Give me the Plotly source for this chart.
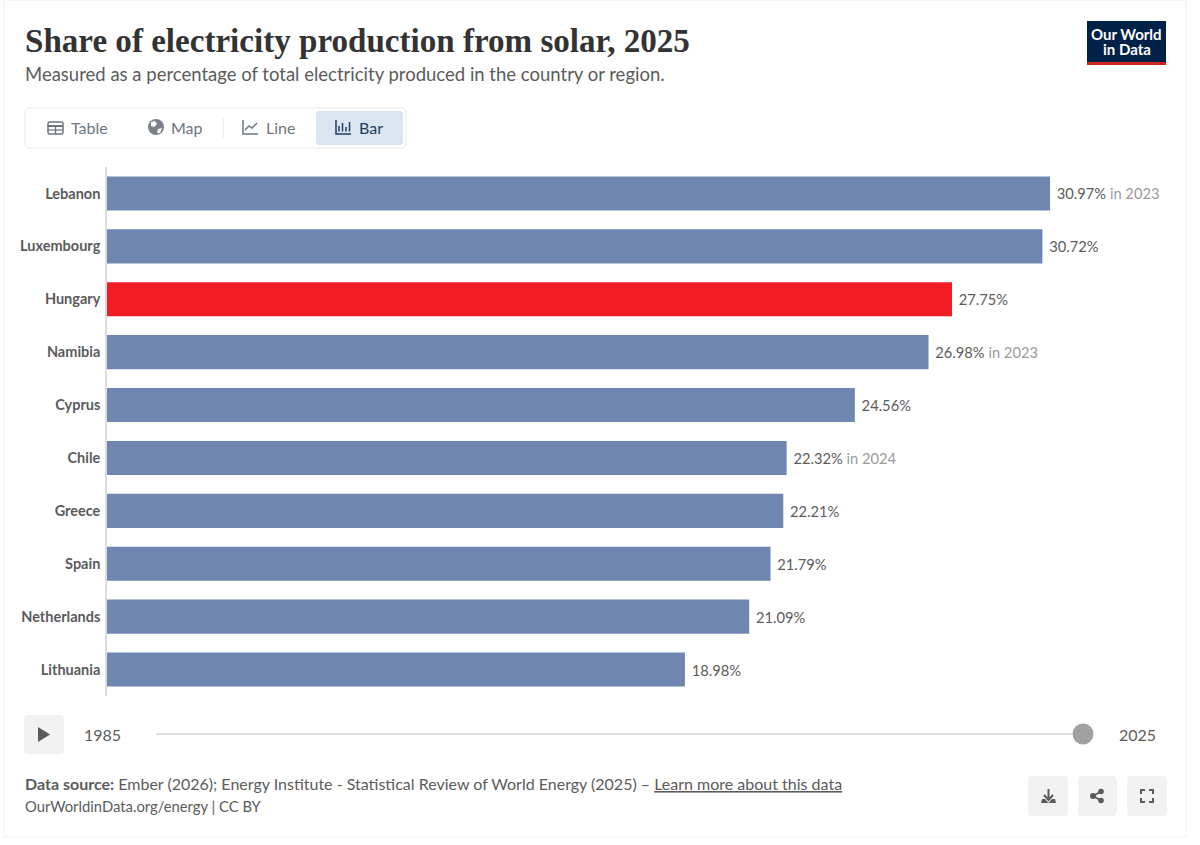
"""
Share of electricity production from solar, 2025 (Our World in Data style bar chart).
"""

import plotly.graph_objects as go

W, H = 1200, 845

countries = ["Lebanon", "Luxembourg", "Hungary", "Namibia", "Cyprus",
             "Chile", "Greece", "Spain", "Netherlands", "Lithuania"]
shares = [30.97, 30.72, 27.75, 26.98, 24.56, 22.32, 22.21, 21.79, 21.09, 18.98]
years = ["2023", "", "", "2023", "", "2024", "", "", "", ""]
highlight = "Hungary"

BLUE = "#6f87b0"
RED = "#f11c24"
TEXT = "#5b5b5b"
MUTED = "#6e7581"
BTN = "#f2f2f2"


def px(x):
    return x / W


def py(y):
    return 1 - y / H


def path(*pts):
    """SVG-путь из точек в пикселях картинки."""
    out = []
    for p in pts:
        if isinstance(p, str):
            out.append(p)
        else:
            out.append(f"{px(p[0]):.5f},{py(p[1]):.5f}")
    return " ".join(out)


def round_rect(x0, y0, x1, y1, r=4, fill=BTN, line=None, lw=1):
    d = path("M", (x0 + r, y0), "L", (x1 - r, y0), "Q", (x1, y0), (x1, y0 + r),
             "L", (x1, y1 - r), "Q", (x1, y1), (x1 - r, y1),
             "L", (x0 + r, y1), "Q", (x0, y1), (x0, y1 - r),
             "L", (x0, y0 + r), "Q", (x0, y0), (x0 + r, y0), "Z")
    return dict(type="path", xref="paper", yref="paper", path=d, fillcolor=fill,
                line=dict(color=line or "rgba(0,0,0,0)", width=lw))


def rect(x0, y0, x1, y1, fill="rgba(0,0,0,0)", line=None, lw=1):
    return dict(type="rect", xref="paper", yref="paper", x0=px(x0), x1=px(x1),
                y0=py(y0), y1=py(y1), fillcolor=fill,
                line=dict(color=line or "rgba(0,0,0,0)", width=lw))


def seg(x0, y0, x1, y1, color, lw=1):
    return dict(type="line", xref="paper", yref="paper", x0=px(x0), x1=px(x1),
                y0=py(y0), y1=py(y1), line=dict(color=color, width=lw))


def poly(pts, fill=None, line=None, lw=1.5, close=True):
    parts = ["M", pts[0]]
    for p in pts[1:]:
        parts += ["L", p]
    if close:
        parts.append("Z")
    return dict(type="path", xref="paper", yref="paper", path=path(*parts),
                fillcolor=fill or "rgba(0,0,0,0)",
                line=dict(color=line or "rgba(0,0,0,0)", width=lw))


def circle(cx, cy, r, fill="rgba(0,0,0,0)", line=None, lw=1):
    return dict(type="circle", xref="paper", yref="paper", x0=px(cx - r), x1=px(cx + r),
                y0=py(cy + r), y1=py(cy - r), fillcolor=fill,
                line=dict(color=line or "rgba(0,0,0,0)", width=lw))


def label(x, y, text, size=16, color=TEXT, anchor="left", family="Lato"):
    # у аннотаций есть внутренний отступ около 2 px
    if anchor == "left":
        x -= 2
    return dict(xref="paper", yref="paper", x=px(x), y=py(y), text=text, showarrow=False,
                xanchor=anchor, yanchor="middle", align=anchor,
                font=dict(family=family, size=size, color=color))


bar_text = []
for share, year in zip(shares, years):
    t = f"\u00a0{share:.2f}%"
    if year:
        t += f" <span style='color:#9a9a9a'>in {year}</span>"
    bar_text.append(t)

fig = go.Figure(go.Bar(
    x=shares,
    y=countries,
    orientation="h",
    marker=dict(color=[RED if c == highlight else BLUE for c in countries], line_width=0),
    text=bar_text,
    textposition="outside",
    cliponaxis=False,
    textfont=dict(family="Lato", size=14.7, color=TEXT),
    hoverinfo="x+y",
))

# рамка карточки, переключатель вкладок, логотип
shapes = [
    seg(4, 0, 4, 837, "#f0f0f0"),
    seg(1186, 0, 1186, 837, "#f0f0f0"),
    seg(4, 837, 1186, 837, "#f0f0f0"),
    seg(4, 0, 1186, 0, "#f0f0f0"),
    round_rect(25, 108, 406, 148, r=5, fill="#ffffff", line="#e9e9e9"),
    round_rect(316, 111, 403, 145, r=3, fill="#dbe5f0"),
    seg(223, 118, 223, 138, "#e4e4e4"),
    rect(1087, 21, 1166, 65, fill="#002147"),
    rect(1087, 62, 1166, 65, fill="#ce261e"),
    # таблица
    round_rect(48, 122, 63, 134, r=1.5, fill="rgba(0,0,0,0)", line=MUTED, lw=1.5),
    seg(48, 126, 63, 126, MUTED, 2),
    seg(55.5, 126, 55.5, 134, MUTED, 1.5),
    seg(48, 130, 63, 130, MUTED, 1.2),
    # глобус
    circle(156, 127, 8, fill="#7d8086"),
    poly([(151, 122), (155, 121), (157, 124), (154, 127), (151, 126)], fill="#ffffff"),
    poly([(158, 129), (162, 128), (160, 133), (157, 133)], fill="#ffffff"),
    # линия
    poly([(243, 120), (243, 134), (258, 134)], line=MUTED, close=False),
    poly([(245, 130), (249, 126), (252, 128), (257, 123)], line=MUTED, close=False),
    # столбики
    poly([(336, 120), (336, 134), (351, 134)], line="#1d3d63", close=False),
    seg(339, 126, 339, 131.5, "#1d3d63", 1.5),
    seg(342.5, 123, 342.5, 131.5, "#1d3d63", 1.5),
    seg(346, 127, 346, 131.5, "#1d3d63", 1.5),
    seg(349.5, 122, 349.5, 131.5, "#1d3d63", 1.5),
    # таймлайн
    round_rect(24, 715, 64, 754, r=4),
    poly([(38, 727), (50, 734.5), (38, 742)], fill=TEXT),
    seg(156, 734, 1072, 734, "#dfdfdf", 2),
    circle(1083, 734, 10.5, fill="#a1a1a1"),
    # кнопки внизу
    round_rect(1028, 776, 1068, 816, r=4),
    round_rect(1078, 776, 1117, 816, r=4),
    round_rect(1127, 776, 1167, 816, r=4),
    # скачать
    seg(1048.5, 789, 1048.5, 799, TEXT, 2),
    poly([(1044, 795), (1048.5, 800), (1053, 795)], line=TEXT, lw=2, close=False),
    poly([(1042, 799), (1045, 799), (1048.5, 803), (1052, 799), (1055, 799), (1056, 803),
          (1041, 803)], fill=TEXT),
    # поделиться
    seg(1093, 796, 1101, 791.5, TEXT, 1.8),
    seg(1093, 796, 1101, 800.5, TEXT, 1.8),
    circle(1093, 796, 3, fill=TEXT),
    circle(1101, 791.5, 2.8, fill=TEXT),
    circle(1101, 800.5, 2.8, fill=TEXT),
    # на весь экран
    poly([(1141, 794), (1141, 790), (1145, 790)], line=TEXT, lw=2, close=False),
    poly([(1149, 790), (1153, 790), (1153, 794)], line=TEXT, lw=2, close=False),
    poly([(1153, 798), (1153, 802), (1149, 802)], line=TEXT, lw=2, close=False),
    poly([(1145, 802), (1141, 802), (1141, 798)], line=TEXT, lw=2, close=False),
]

annotations = [
    label(25, 41, "<b>Share of electricity production from solar, 2025</b>", size=33.1,
          color="#333333", family="Liberation Serif"),
    label(25, 74, "Measured as a percentage of total electricity produced in the country or region.",
          size=18.5, color="#5b5b5b"),
    label(71, 127, "Table", color=MUTED),
    label(171, 127, "Map", color=MUTED),
    label(266, 127, "Line", color=MUTED),
    label(359, 127, "Bar", color="#1d3d63"),
    label(1126.5, 34, "<b>Our World</b>", size=15, color="#ffffff", anchor="center"),
    label(1126.5, 48.5, "<b>in Data</b>", size=15, color="#ffffff", anchor="center"),
    label(84, 734, "1985"),
    label(1119, 734, "2025"),
    label(25, 783, "<b>Data source:</b> Ember (2026); Energy Institute - Statistical Review of "
                   "World Energy (2025) – <u>Learn more about this data</u>", size=16),
    label(25, 806, "OurWorldinData.org/energy | CC BY", size=14.8),
]

fig.update_layout(
    width=W,
    height=H,
    margin=dict(l=0, r=0, t=0, b=0),
    paper_bgcolor="#ffffff",
    plot_bgcolor="#ffffff",
    showlegend=False,
    bargap=0.355,
    shapes=shapes,
    annotations=annotations,
    xaxis=dict(domain=[px(107), 1], range=[0, (W - 107) / 30.45], visible=False),
    yaxis=dict(
        domain=[py(696), py(167)],
        autorange="reversed",
        showline=True,
        linecolor="#dcdcdc",
        linewidth=1.5,
        ticks="outside",
        ticklen=2,
        tickcolor="rgba(0,0,0,0)",
        tickfont=dict(family="Lato", size=14.5, color=TEXT, weight="bold"),
        showgrid=False,
    ),
)

fig.write_html("out.html", config={"displayModeBar": False},
               post_script="document.body.style.margin='0';")
